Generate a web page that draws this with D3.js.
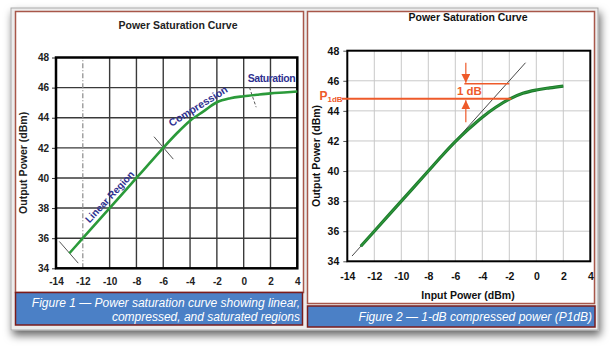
<!DOCTYPE html>
<html>
<head>
<meta charset="utf-8">
<script src="https://cdn.jsdelivr.net/npm/d3@7"></script>
<style>
  html, body { margin: 0; padding: 0; background: #ffffff; }
  svg { display: block; }
  text { font-family: "Liberation Sans", Arial, sans-serif; }
</style>
</head>
<body>
<script>
// Shared axis ticks (dBm)
const inputTicks = [-14, -12, -10, -8, -6, -4, -2, 0, 2, 4];
const outputTicks = [34, 36, 38, 40, 42, 44, 46, 48];

// Figure 1: amplifier transfer curve
const saturationIn  = [-13, -12, -11, -10, -9, -8, -7, -6, -5, -4, -3, -2, -1, 0, 1, 2, 3, 4];
const saturationOut = [35, 36, 37, 38, 39, 40, 41, 42, 42.95, 43.8, 44.42, 45.03, 45.3, 45.43, 45.53, 45.62, 45.68, 45.74];

// Figure 2: transfer curve with the ideal linear response
const compressionIn  = [-13, -12, -11, -10, -9, -8, -7, -6, -5, -4, -3, -2, -1, 0, 1, 2];
const compressionOut = [35, 36, 37, 38, 39, 40, 41, 41.95, 42.8, 43.58, 44.24, 44.78, 45.17, 45.39, 45.53, 45.65];
const linearIn  = [-13.65, -0.8];
const linearOut = [34.35, 47.2];
const p1dB = 44.8;
const oneDbAbove = 45.8;

// Region marks drawn across the Figure 1 curve
const regionMarks = [
  { x1: -13.75, y1: 35.78, x2: -12.34, y2: 34.34, dashed: false },
  { x1: -6.69, y1: 42.74, x2: -5.25, y2: 41.25, dashed: false },
  { x1: 0.43, y1: 46.02, x2: 0.93, y2: 44.7, dashed: true }
];

const W = 610, H = 346;
const svg = d3.select("body").append("svg").attr("width", W).attr("height", H);
const tickText = d => String(d);   // plain hyphen for negatives

const defs = svg.append("defs");
const shadow = defs.append("filter").attr("id", "frameShadow")
  .attr("x", "-5%").attr("y", "-5%").attr("width", "112%").attr("height", "120%");
shadow.append("feDropShadow").attr("dx", 2).attr("dy", 5).attr("stdDeviation", 4)
  .attr("flood-color", "#000").attr("flood-opacity", 0.6);

function arrowMarker(id) {
  defs.append("marker").attr("id", id)
    .attr("viewBox", "0 0 10 10").attr("refX", 10).attr("refY", 5)
    .attr("markerWidth", 9).attr("markerHeight", 9).attr("markerUnits", "userSpaceOnUse")
    .attr("orient", "auto")
    .append("path").attr("d", "M0,0 L10,5 L0,10 z").attr("fill", "#ee5a2a");
}
arrowMarker("arrowHead");

// Outer frame
svg.append("rect").attr("x", 11).attr("y", 8).attr("width", 587).attr("height", 322)
  .attr("fill", "#ececec").attr("stroke", "#a9a9a9").attr("stroke-width", 1)
  .attr("filter", "url(#frameShadow)");

// Panels
const panelStroke = "#a8574a";
svg.append("rect").attr("x", 15.5).attr("y", 11.5).attr("width", 288).attr("height", 281)
  .attr("fill", "#fff").attr("stroke", panelStroke).attr("stroke-width", 1.5);
svg.append("rect").attr("x", 307.5).attr("y", 11.5).attr("width", 287).attr("height", 292)
  .attr("fill", "#fff").attr("stroke", panelStroke).attr("stroke-width", 1.5);

// Caption boxes
function caption(x, y, w, h, lines, rightX, baselines) {
  svg.append("rect").attr("x", x).attr("y", y).attr("width", w).attr("height", h)
    .attr("fill", "#4b80c6").attr("stroke", "#7a1c1c").attr("stroke-width", 1.5);
  lines.forEach((t, i) => {
    svg.append("text").attr("x", rightX).attr("y", baselines[i])
      .attr("text-anchor", "end").attr("font-size", 12).attr("font-style", "italic")
      .attr("fill", "#fff").text(t);
  });
}
caption(15.5, 292.5, 287, 32.5,
  ["Figure 1 \u2014 Power saturation curve showing linear,", "compressed, and saturated regions"],
  300, [307, 321]);
caption(307.5, 306, 287.5, 21, ["Figure 2 \u2014 1-dB compressed power (P1dB)"], 592, [321]);

// ---------- Figure 1 ----------
const x1 = d3.scaleLinear().domain([-14, 4]).range([56, 297.3]);
const y1 = d3.scaleLinear().domain([34, 48]).range([268.3, 57.5]);
const g1 = svg.append("g");

g1.append("text").attr("x", 178).attr("y", 29).attr("text-anchor", "middle")
  .attr("font-size", 10.5).attr("font-weight", "bold").attr("fill", "#222")
  .text("Power Saturation Curve");

// grid
g1.append("g").selectAll("line").data(outputTicks.slice(1, -1)).join("line")
  .attr("x1", x1.range()[0]).attr("x2", x1.range()[1])
  .attr("y1", d => y1(d)).attr("y2", d => y1(d))
  .attr("stroke", "#3a3a3a").attr("stroke-width", 1.4);
g1.append("g").selectAll("line").data(inputTicks.slice(1, -1)).join("line")
  .attr("y1", y1.range()[0]).attr("y2", y1.range()[1])
  .attr("x1", d => x1(d)).attr("x2", d => x1(d))
  .attr("stroke", d => d === -12 ? "#8a8a8a" : "#3a3a3a")
  .attr("stroke-width", d => d === -12 ? 1.2 : 1.4)
  .attr("stroke-dasharray", d => d === -12 ? "5,2,1,2" : null);

// axes
const yAxis1 = d3.axisLeft(y1).tickValues(outputTicks).tickFormat(tickText).tickSize(4).tickPadding(3);
const xAxis1 = d3.axisBottom(x1).tickValues(inputTicks).tickFormat(tickText).tickSize(0).tickPadding(10);
g1.append("g").attr("transform", `translate(${x1.range()[0]},0)`).call(yAxis1)
  .call(g => { g.select(".domain").remove(); g.selectAll("line").attr("stroke", "#333"); })
  .call(g => g.selectAll("text").attr("font-size", 10).attr("font-weight", "bold").attr("fill", "#222")
    .attr("font-family", "Liberation Sans, Arial, sans-serif"));
g1.append("g").attr("transform", `translate(0,${y1.range()[0]})`).call(xAxis1)
  .call(g => g.select(".domain").remove())
  .call(g => g.selectAll("text").attr("font-size", 10).attr("font-weight", "bold").attr("fill", "#222")
    .attr("font-family", "Liberation Sans, Arial, sans-serif"));

g1.append("rect").attr("x", x1.range()[0]).attr("y", y1.range()[1])
  .attr("width", x1.range()[1] - x1.range()[0]).attr("height", y1.range()[0] - y1.range()[1])
  .attr("fill", "none").attr("stroke", "#000").attr("stroke-width", 2.5);

g1.append("text").attr("transform", `translate(27,${(y1.range()[0] + y1.range()[1]) / 2}) rotate(-90)`)
  .attr("text-anchor", "middle").attr("font-size", 10.5).attr("font-weight", "bold").attr("fill", "#222")
  .text("Output Power (dBm)");

// region marks
g1.append("g").selectAll("line").data(regionMarks).join("line")
  .attr("x1", d => x1(d.x1)).attr("y1", d => y1(d.y1))
  .attr("x2", d => x1(d.x2)).attr("y2", d => y1(d.y2))
  .attr("stroke", "#555").attr("stroke-width", 1)
  .attr("stroke-dasharray", d => d.dashed ? "3,2" : null);

// curve
const line1 = d3.line().curve(d3.curveMonotoneX).x(d => x1(d[0])).y(d => y1(d[1]));
g1.append("path").datum(d3.zip(saturationIn, saturationOut))
  .attr("d", line1).attr("fill", "none").attr("stroke", "#2b9a3a").attr("stroke-width", 2.6);

// region labels
const labelColor = "#2e3190";
g1.append("text").attr("transform", `translate(${x1(-10.0)},${y1(38.75)}) rotate(-47)`)
  .attr("text-anchor", "middle").attr("dy", "0.35em").attr("font-size", 10).attr("font-weight", "bold")
  .attr("fill", labelColor).text("Linear Region");
g1.append("text").attr("transform", `translate(${x1(-3.4)},${y1(44.78)}) rotate(-32)`)
  .attr("text-anchor", "middle").attr("dy", "0.35em").attr("font-size", 10.5).attr("font-weight", "bold")
  .attr("fill", labelColor).text("Compression");
g1.append("text").attr("x", x1(0.3)).attr("y", y1(46.64)).attr("dy", "0.35em")
  .attr("font-size", 10.5).attr("font-weight", "bold").attr("fill", labelColor)
  .attr("textLength", 48).text("Saturation");

// ---------- Figure 2 ----------
const x2 = d3.scaleLinear().domain([-14, 4]).range([347.3, 590.3]);
const y2 = d3.scaleLinear().domain([34, 48]).range([261.3, 50.7]);
const g2 = svg.append("g");

g2.append("text").attr("x", 468).attr("y", 21).attr("text-anchor", "middle")
  .attr("font-size", 10.5).attr("font-weight", "bold").attr("fill", "#111")
  .text("Power Saturation Curve");

g2.append("g").selectAll("line").data(outputTicks.slice(1, -1)).join("line")
  .attr("x1", x2.range()[0]).attr("x2", x2.range()[1])
  .attr("y1", d => y2(d)).attr("y2", d => y2(d))
  .attr("stroke", "#c9c9c9").attr("stroke-width", 1);
g2.append("g").selectAll("line").data(inputTicks.slice(1, -1)).join("line")
  .attr("y1", y2.range()[0]).attr("y2", y2.range()[1])
  .attr("x1", d => x2(d)).attr("x2", d => x2(d))
  .attr("stroke", "#c9c9c9").attr("stroke-width", 1);

const yAxis2 = d3.axisLeft(y2).tickValues(outputTicks).tickFormat(tickText).tickSize(4).tickPadding(4);
const xAxis2 = d3.axisBottom(x2).tickValues(inputTicks).tickFormat(tickText).tickSize(0).tickPadding(11);
g2.append("g").attr("transform", `translate(${x2.range()[0]},0)`).call(yAxis2)
  .call(g => { g.select(".domain").remove(); g.selectAll("line").attr("stroke", "#555"); })
  .call(g => g.selectAll("text").attr("font-size", 10.5).attr("font-weight", "bold").attr("fill", "#111")
    .attr("font-family", "Liberation Sans, Arial, sans-serif"));
g2.append("g").attr("transform", `translate(0,${y2.range()[0]})`).call(xAxis2)
  .call(g => g.select(".domain").remove())
  .call(g => g.selectAll("text").attr("font-size", 10.5).attr("font-weight", "bold").attr("fill", "#111")
    .attr("font-family", "Liberation Sans, Arial, sans-serif"));

g2.append("rect").attr("x", x2.range()[0]).attr("y", y2.range()[1])
  .attr("width", x2.range()[1] - x2.range()[0]).attr("height", y2.range()[0] - y2.range()[1])
  .attr("fill", "none").attr("stroke", "#000").attr("stroke-width", 2);

g2.append("text").attr("x", 468).attr("y", 299).attr("text-anchor", "middle")
  .attr("font-size", 10.5).attr("font-weight", "bold").attr("fill", "#111")
  .text("Input Power (dBm)");
g2.append("text").attr("transform", `translate(320,${(y2.range()[0] + y2.range()[1]) / 2}) rotate(-90)`)
  .attr("text-anchor", "middle").attr("font-size", 10.5).attr("font-weight", "bold").attr("fill", "#111")
  .text("Output Power (dBm)");

// ideal linear response
g2.append("path").datum(d3.zip(linearIn, linearOut))
  .attr("d", d3.line().x(d => x2(d[0])).y(d => y2(d[1])))
  .attr("fill", "none").attr("stroke", "#333").attr("stroke-width", 0.9);

// measured curve
const line2 = d3.line().curve(d3.curveMonotoneX).x(d => x2(d[0])).y(d => y2(d[1]));
g2.append("path").datum(d3.zip(compressionIn, compressionOut))
  .attr("d", line2).attr("fill", "none").attr("stroke", "#1d7a2c").attr("stroke-width", 3.2);
g2.append("path").datum(d3.zip(compressionIn, compressionOut))
  .attr("d", line2).attr("fill", "none").attr("stroke", "#2f9a3c").attr("stroke-width", 1.1);

// 1 dB compression annotation
const orange = "#ee5a2a";
g2.append("line").attr("x1", 342).attr("x2", x2(-1.85))
  .attr("y1", y2(p1dB)).attr("y2", y2(p1dB))
  .attr("stroke", orange).attr("stroke-width", 2);
g2.append("line").attr("x1", x2(-5.33)).attr("x2", x2(-2.0))
  .attr("y1", y2(oneDbAbove)).attr("y2", y2(oneDbAbove))
  .attr("stroke", orange).attr("stroke-width", 1.5);
g2.append("line").attr("x1", x2(-5.22)).attr("x2", x2(-5.22))
  .attr("y1", y2(47.2)).attr("y2", y2(oneDbAbove) - 1)
  .attr("stroke", orange).attr("stroke-width", 1.2).attr("marker-end", "url(#arrowHead)");
g2.append("line").attr("x1", x2(-5.22)).attr("x2", x2(-5.22))
  .attr("y1", y2(43.25)).attr("y2", y2(p1dB) + 1.5)
  .attr("stroke", orange).attr("stroke-width", 1.2).attr("marker-end", "url(#arrowHead)");
g2.append("text").attr("x", x2(-4.95)).attr("y", y2((p1dB + oneDbAbove) / 2)).attr("dy", "0.36em")
  .attr("text-anchor", "middle").attr("font-size", 11.5).attr("font-weight", "bold").attr("fill", orange)
  .text("1 dB");
const pLabel = g2.append("text").attr("x", 319.5).attr("y", y2(p1dB) + 1)
  .attr("font-weight", "bold").attr("fill", orange);
pLabel.append("tspan").attr("font-size", 12).text("P");
pLabel.append("tspan").attr("font-size", 8).attr("dy", 2).text("1dB");
</script>
</body>
</html>
